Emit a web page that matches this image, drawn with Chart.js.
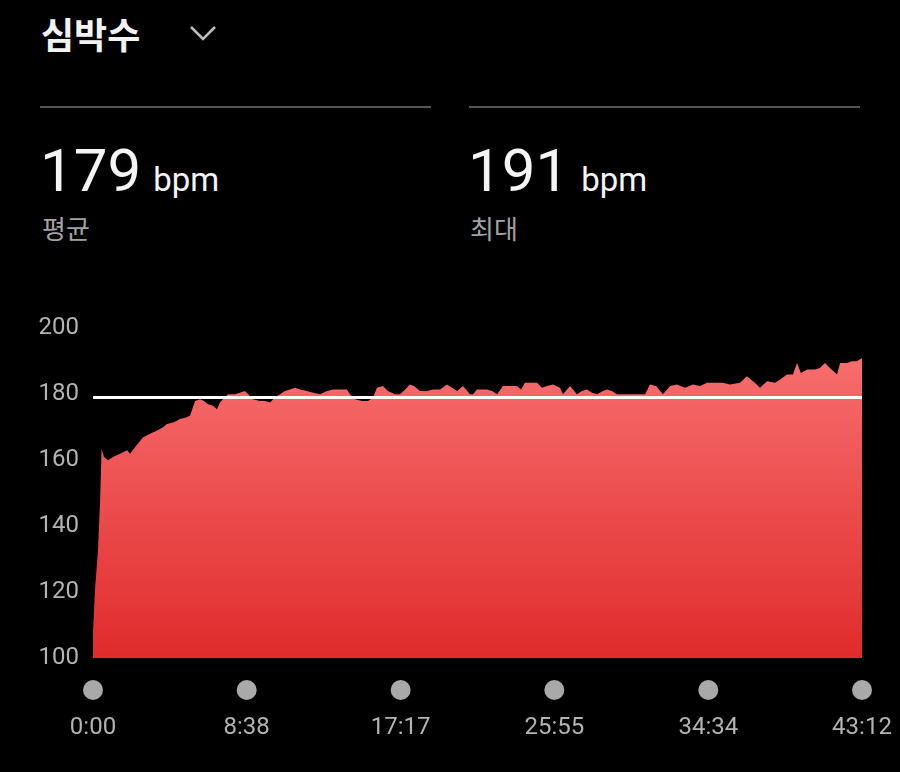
<!DOCTYPE html>
<html lang="ko">
<head>
<meta charset="utf-8">
<script src="https://cdn.jsdelivr.net/npm/chart.js@4.4.1/dist/chart.umd.min.js"></script>
<style>
  body { margin: 0; background: #000; width: 900px; height: 772px; overflow: hidden; position: relative; font-family: Roboto, "Noto Sans CJK KR", sans-serif; }
  .title { position: absolute; left: 41px; top: 15px; font-family: "Noto Sans CJK KR"; font-weight: 700; font-size: 36px; line-height: 1; color: #f2f2f2; }
  .chev { position: absolute; left: 189px; top: 25px; }
  .rule { position: absolute; top: 106px; width: 391px; height: 2px; background: #555; }
  .value { position: absolute; top: 141px; font-size: 60px; line-height: 1; color: #f4f4f4; white-space: nowrap; }
  .value small { font-size: 33px; margin-left: 12px; }
  .label { position: absolute; top: 215px; font-family: "Noto Sans CJK KR"; font-size: 26px; line-height: 1; color: #a3a3a3; }
  #wrap { position: absolute; left: 0; top: 300px; width: 900px; height: 472px; }
</style>
</head>
<body>
<div class="title">심박수</div>
<svg class="chev" width="28" height="16"><polyline points="2,2 14,14 26,2" fill="none" stroke="#bdbdbd" stroke-width="2.5"/></svg>

<div class="rule" style="left:40px"></div>
<div class="rule" style="left:469px"></div>
<div class="value" style="left:40px"><span id="avgVal"></span><small>bpm</small></div>
<div class="value" style="left:468px"><span id="maxVal"></span><small>bpm</small></div>
<div class="label" style="left:42px">평균</div>
<div class="label" style="left:470px">최대</div>

<div id="wrap"><canvas id="hrChart" width="900" height="472"></canvas></div>

<script>
// elapsed time in seconds, heart rate in bpm
const elapsedSec = [
  0, 7, 17, 24, 29, 37, 51, 67, 91, 115,
  125, 142, 169, 192, 216, 236, 249, 273, 293, 313,
  327, 344, 361, 374, 388, 404, 418, 428, 438, 455,
  479, 495, 512, 529, 539, 563, 580, 597, 613, 630,
  647, 664, 681, 698, 721, 742, 765, 789, 809, 833,
  856, 866, 883, 907, 927, 944, 957, 977, 994, 1018,
  1035, 1052, 1068, 1082, 1102, 1126, 1146, 1170, 1193, 1210,
  1227, 1247, 1271, 1281, 1294, 1328, 1345, 1362, 1382, 1406,
  1429, 1443, 1456, 1476, 1497, 1513, 1530, 1551, 1574, 1584,
  1608, 1631, 1648, 1665, 1682, 1699, 1719, 1732, 1749, 1766,
  1793, 1827, 1861, 1877, 1898, 1921, 1945, 1968, 1995, 2022,
  2046, 2070, 2096, 2123, 2147, 2181, 2204, 2231, 2248, 2272,
  2299, 2316, 2339, 2359, 2373, 2386, 2407, 2434, 2450, 2467,
  2484, 2508, 2518, 2541, 2558, 2575, 2592
];
const heartRate = [
  108, 121, 133, 148, 163.5, 161, 160, 161, 162, 163,
  162, 164, 167, 168, 169, 170, 171, 171.5, 172.5, 173,
  173.5, 178, 178.5, 178, 177, 176.5, 175.5, 177.5, 178.5, 180,
  180, 180.5, 181, 179.5, 178.5, 178, 178, 177.5, 179, 180,
  181, 181.5, 182, 181.5, 181, 180.5, 180, 181, 181.5, 181.5,
  181.5, 180, 178.5, 178, 178, 179, 182, 182.5, 181, 180,
  180, 181.5, 183, 182.5, 181, 181, 181.5, 181.5, 183, 182,
  181, 182.5, 180, 180, 181.5, 181.5, 181, 180, 182.5, 182.5,
  182.5, 181.5, 183.5, 183.5, 183.5, 182, 182.5, 183, 182, 180,
  182.5, 180, 181, 181.5, 180.5, 180, 181, 181.5, 181, 180,
  180, 180, 180, 183, 182.5, 180, 182.5, 183, 182, 183,
  182.5, 183.5, 183.5, 183.5, 183, 183.5, 185.5, 183.5, 182, 184,
  183.5, 184.5, 186, 186, 189.5, 186.5, 187.5, 187.5, 188, 189.5,
  188, 186, 189.5, 189.5, 190, 190, 191
];
const avgBpm = 179;
const maxBpm = 191;
const yTicks = [100, 120, 140, 160, 180, 200];
const xTickSec = [0, 518, 1037, 1555, 2074, 2592];
const xTickLabels = ['0:00', '8:38', '17:17', '25:55', '34:34', '43:12'];

document.getElementById('avgVal').textContent = avgBpm;
document.getElementById('maxVal').textContent = maxBpm;

const tickDots = {
  id: 'tickDots',
  afterDraw(chart) {
    const { ctx, chartArea } = chart;
    const x = chart.scales.x;
    ctx.save();
    ctx.fillStyle = '#a9a9a9';
    x.ticks.forEach(t => {
      ctx.beginPath();
      ctx.arc(x.getPixelForValue(t.value), chartArea.bottom + 32, 10, 0, Math.PI * 2);
      ctx.fill();
    });
    ctx.restore();
  }
};

const tickFont = { family: 'Roboto', size: 24 };
const endSec = xTickSec[xTickSec.length - 1];

new Chart(document.getElementById('hrChart'), {
  type: 'line',
  data: {
    datasets: [{
      data: [{ x: 0, y: avgBpm }, { x: endSec, y: avgBpm }],
      borderColor: '#ffffff',
      borderWidth: 3,
      pointRadius: 0,
      fill: false,
      order: 1
    }, {
      data: elapsedSec.map((t, i) => ({ x: t, y: heartRate[i] })),
      borderWidth: 0,
      borderColor: 'rgba(0,0,0,0)',
      pointRadius: 0,
      tension: 0,
      fill: 'start',
      order: 2,
      backgroundColor: ctx => {
        const area = ctx.chart.chartArea;
        if (!area) return '#ee5555';
        const g = ctx.chart.ctx.createLinearGradient(0, area.top, 0, area.bottom);
        g.addColorStop(0, '#fa7474');
        g.addColorStop(1, '#e02b2c');
        return g;
      }
    }]
  },
  options: {
    responsive: false,
    animation: false,
    layout: { padding: { top: 27, right: 38, left: 0, bottom: 0 } },
    plugins: { legend: { display: false }, tooltip: { enabled: false } },
    scales: {
      x: {
        type: 'linear',
        min: 0,
        max: endSec,
        afterBuildTicks: s => { s.ticks = xTickSec.map(v => ({ value: v })); },
        afterFit: s => { s.height = 114; s.paddingLeft = 0; s.paddingRight = 0; },
        ticks: {
          callback: (v, i) => xTickLabels[i],
          color: '#b3b3b3',
          font: tickFont,
          padding: 56,
          maxRotation: 0,
          autoSkip: false
        },
        grid: { display: false, drawTicks: false },
        border: { display: false }
      },
      y: {
        min: 100,
        max: 200,
        afterBuildTicks: s => { s.ticks = yTicks.map(v => ({ value: v })); },
        afterFit: s => { s.width = 93; },
        ticks: { color: '#b3b3b3', font: tickFont, padding: 14 },
        grid: { display: false, drawTicks: false },
        border: { display: false }
      }
    }
  },
  plugins: [tickDots]
});
</script>
</body>
</html>
